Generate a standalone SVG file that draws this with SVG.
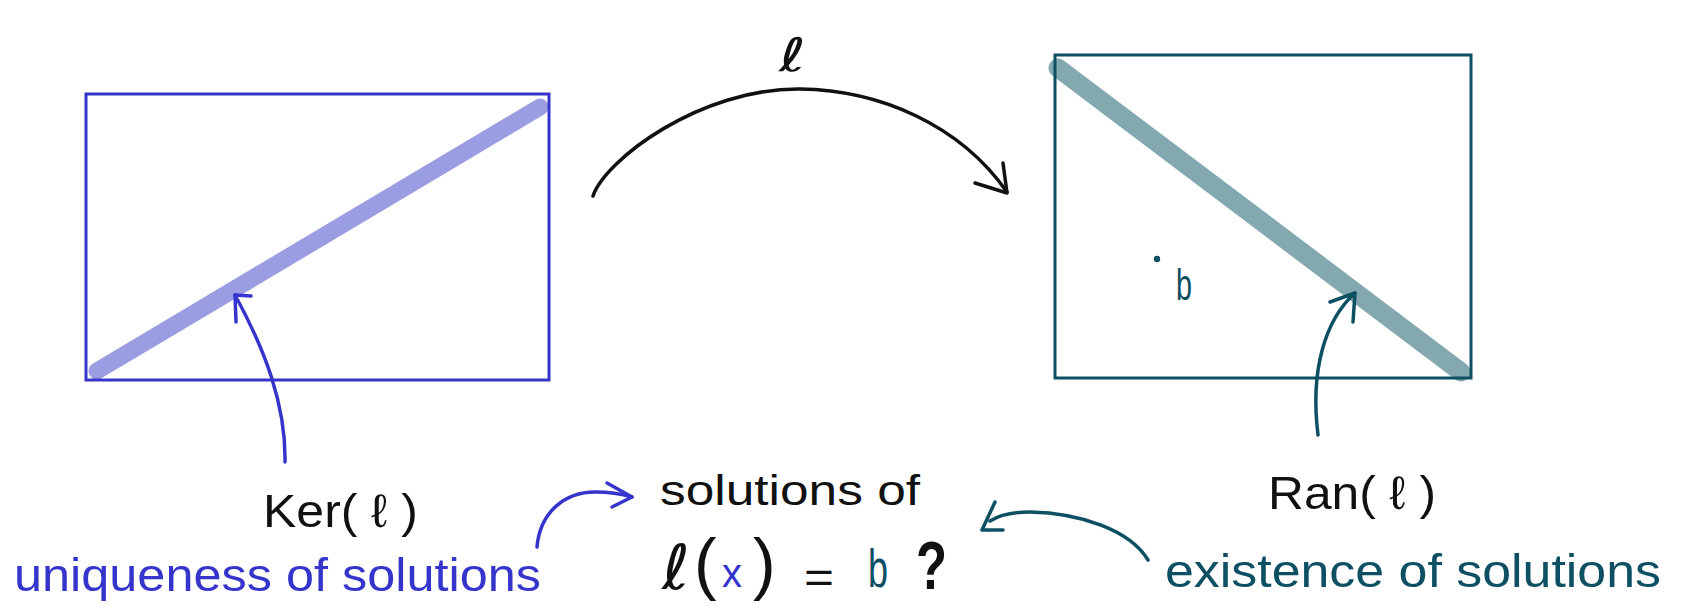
<svg xmlns="http://www.w3.org/2000/svg" width="1681" height="607" viewBox="0 0 1681 607">
<style>
.t{font-family:"Liberation Sans","DejaVu Sans",sans-serif;}
.k{fill:#111111;}
.bl{fill:#3535cc;}
.tl{fill:#0d4f63;}
.ell{font-family:"DejaVu Sans","Liberation Sans",sans-serif;}
.c{fill:none;stroke-width:3.5;stroke-linecap:round;stroke-linejoin:round;}
.cb{stroke:#3535cc;}
.ct{stroke:#0d4f63;}
.ck{stroke:#111111;}
</style>
<rect width="1681" height="607" fill="#ffffff"/>
<g id="ker-space">
  <line x1="97" y1="371" x2="540" y2="107" stroke="#9b9de3" stroke-width="17" stroke-linecap="round"/>
  <rect x="86" y="94" width="463" height="286" fill="none" stroke="#3535cc" stroke-width="3"/>
</g>
<g id="ran-space">
  <line x1="1058" y1="68" x2="1461" y2="372" stroke="#84a8b0" stroke-width="19" stroke-linecap="round"/>
  <rect x="1055" y="55" width="416" height="323" fill="none" stroke="#0d4f63" stroke-width="3"/>
  <circle cx="1157" cy="259" r="3.2" fill="#0d4f63"/>
  <text class="t tl" x="1176" y="300" font-size="44" textLength="16" lengthAdjust="spacingAndGlyphs">b</text>
</g>
<g id="map-label">
  <text class="ell k" x="779" y="71" font-size="46" textLength="27" lengthAdjust="spacingAndGlyphs">ℓ</text>
</g>
<g id="ker-label">
  <text class="t k" x="263" y="527" font-size="47" textLength="155" lengthAdjust="spacingAndGlyphs">Ker( ℓ )</text>
</g>
<g id="ran-label">
  <text class="t k" x="1268" y="509" font-size="47" textLength="168" lengthAdjust="spacingAndGlyphs">Ran( ℓ )</text>
</g>
<g id="uniqueness">
  <text class="t bl" x="14" y="591" font-size="46" textLength="527" lengthAdjust="spacingAndGlyphs">uniqueness of solutions</text>
</g>
<g id="existence">
  <text class="t tl" x="1165" y="587" font-size="46" textLength="496" lengthAdjust="spacingAndGlyphs">existence of solutions</text>
</g>
<g id="question">
  <text class="t k" x="660" y="505" font-size="42" textLength="260" lengthAdjust="spacingAndGlyphs">solutions of</text>
  <text class="ell k" x="662" y="589" font-size="62" textLength="28" lengthAdjust="spacingAndGlyphs">ℓ</text>
  <text class="t k" x="694" y="587" font-size="68">(</text>
  <text class="t bl" x="722" y="587" font-size="40">x</text>
  <text class="t k" x="753" y="587" font-size="68">)</text>
  <text class="t k" x="804" y="593" font-size="44" textLength="30" lengthAdjust="spacingAndGlyphs">=</text>
  <text class="t tl" x="868" y="587" font-size="54" textLength="20" lengthAdjust="spacingAndGlyphs">b</text>
  <text class="t k" x="916" y="589" font-size="68" font-weight="bold" textLength="31" lengthAdjust="spacingAndGlyphs">?</text>
</g>
<g id="connectors">
  <path class="c ck" d="M593,196 C605,160 700,88 800,89 C880,90 960,125 1007,192"/>
  <path class="c ck" d="M1003,163 L1007,193 L975,183"/>
  <path class="c cb" d="M285,462 C286,405 265,350 235,295"/>
  <path class="c cb" d="M236,322 L235,295 L251,296"/>
  <path class="c ct" d="M1318,435 C1310,370 1325,320 1355,293"/>
  <path class="c ct" d="M1330,302 L1355,293 L1353,322"/>
  <path class="c cb" d="M537,547 C540,512 565,492 595,492 C612,492 622,494 632,497"/>
  <path class="c cb" d="M607,483 L632,497 L612,507"/>
  <path class="c ct" d="M1148,560 C1130,530 1080,513 1030,512 C1010,512 998,516 990,521"/>
  <path class="c ct" d="M995,502 L982,530 L1003,530"/>
</g>
</svg>
